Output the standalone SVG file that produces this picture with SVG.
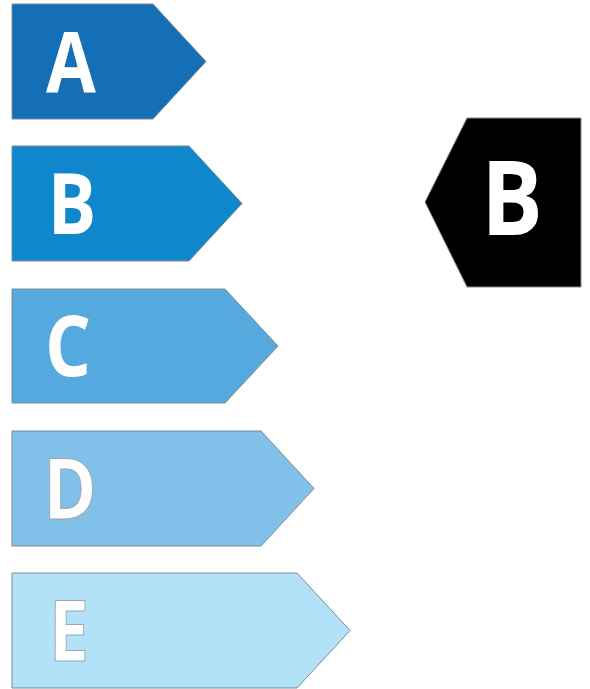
<svg xmlns="http://www.w3.org/2000/svg" width="590" height="689" viewBox="0 0 590 689">
<style>
.band{stroke:#7d8a96;stroke-width:1}
.lt{font-family:"Open Sans","Liberation Sans",sans-serif;font-weight:bold;font-size:84px;fill:#ffffff;text-anchor:middle}
.lt2{stroke:#9aa7b0;stroke-width:1}
</style>
<rect width="590" height="689" fill="#ffffff"/>
<g id="A"><polygon class="band" fill="#156fb6" points="12,4 153,4 206,61.5 153,119 12,119"/><text class="lt" transform="translate(71,92) scale(0.86,1)">A</text></g>
<g id="B"><polygon class="band" fill="#1187cb" points="12,146 189,146 242,203.5 189,261 12,261"/><text class="lt" transform="translate(72,234) scale(0.86,1)">B</text></g>
<g id="C"><polygon class="band" fill="#55a9df" points="12,289 225,289 278,346 225,403 12,403"/><text class="lt" transform="translate(68,376) scale(0.86,1)">C</text></g>
<g id="D"><polygon class="band" fill="#80c0e9" points="12,431 261,431 314,488.5 261,546 12,546"/><text class="lt lt2" transform="translate(70,519) scale(0.86,1)">D</text></g>
<g id="E"><polygon class="band" fill="#b2e2f8" points="12,573 297,573 350,630.5 297,688 12,688"/><text class="lt lt2" transform="translate(69,661) scale(0.86,1)">E</text></g>
<g id="rating"><polygon fill="#000000" stroke="#888888" stroke-width="1" points="581,118 467,118 425,202 467,287 581,287"/><text class="lt" style="font-size:104px" transform="translate(512,235) scale(0.88,1)">B</text></g>
</svg>
